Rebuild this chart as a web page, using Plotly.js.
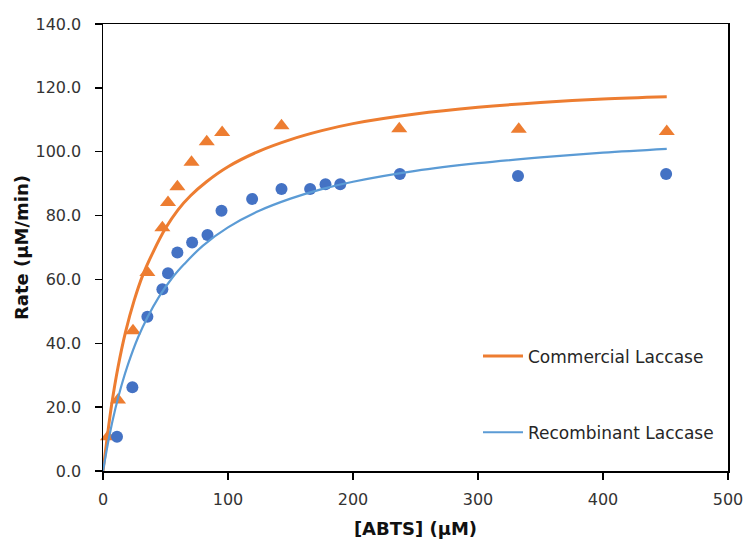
<!DOCTYPE html>
<html>
<head>
<meta charset="utf-8">
<script src="https://cdn.plot.ly/plotly-3.0.1.min.js"></script>
<style>html,body{margin:0;padding:0;background:#fff;}#chart{width:746px;height:543px;}</style>
</head>
<body>
<div id="chart"></div>
<script>
var commercialX = [4, 12, 24, 35.5, 47.5, 52, 59.5, 70.8, 83, 95.3, 142.8, 237, 332.6, 451];
var commercialY = [10.7, 22.2, 43.9, 62.2, 76.2, 84.1, 89.0, 96.7, 103.1, 106.0, 108.1, 107.2, 107.0, 106.3];
var recombinantX = [11.2, 23.5, 35.5, 47.5, 52, 59.5, 71.3, 83.6, 94.8, 119.3, 142.8, 165.7, 178, 189.8, 237.5, 332, 450.5];
var recombinantY = [10.7, 26.2, 48.3, 56.9, 61.9, 68.4, 71.6, 73.9, 81.5, 85.2, 88.3, 88.3, 89.8, 89.8, 93.0, 92.4, 93.0];

// Fitted curves
var commercialFitX = [0, 3.5, 7, 12, 18, 25, 32, 40, 50, 60, 70, 82.8, 100, 125, 150, 175, 200, 250, 300, 350, 400, 451];
var commercialFitY = [0, 11.0, 21.0, 32.5, 43.5, 53.5, 61.5, 68.5, 76.0, 81.8, 86.2, 90.6, 95.3, 100.2, 103.8, 106.6, 108.8, 111.8, 113.9, 115.4, 116.5, 117.2];
var recombinantFitX = [0, 5, 10, 15, 20, 28, 35.5, 45, 55, 65, 80, 100, 125, 150, 175, 200, 250, 300, 350, 400, 451];
var recombinantFitY = [0, 10.8, 19.7, 27.1, 33.4, 41.8, 48.1, 54.7, 60.3, 64.8, 70.6, 76.3, 81.5, 85.3, 88.3, 90.6, 94.0, 96.4, 98.2, 99.7, 100.9];

var seriesNames = ['Commercial Laccase', 'Recombinant Laccase'];
var yTicks = [0, 20, 40, 60, 80, 100, 120, 140];
var xTicks = [0, 100, 200, 300, 400, 500];

var ORANGE = '#ED7D31', BLUE_PT = '#4472C4', BLUE_LN = '#5B9BD5';
var FONT = 'DejaVu Sans';

var traces = [
  {x: commercialX, y: commercialY, type: 'scatter', mode: 'markers', showlegend: false, cliponaxis: false,
   marker: {symbol: 'triangle-up', size: 14, color: ORANGE, line: {width: 0}}, hoverinfo: 'skip'},
  {x: recombinantX, y: recombinantY, type: 'scatter', mode: 'markers', showlegend: false, cliponaxis: false,
   marker: {symbol: 'circle', size: 12, color: BLUE_PT, line: {width: 0}}, hoverinfo: 'skip'},
  {x: commercialFitX, y: commercialFitY, type: 'scatter', mode: 'lines', name: seriesNames[0],
   line: {color: ORANGE, width: 3, shape: 'spline', smoothing: 1}, legend: 'legend'},
  {x: recombinantFitX, y: recombinantFitY, type: 'scatter', mode: 'lines', name: seriesNames[1],
   line: {color: BLUE_LN, width: 2.2, shape: 'spline', smoothing: 1}, legend: 'legend2'}
];

var tickFont = {family: FONT, size: 16, color: '#333'};
var legendFont = {family: FONT, size: 17, color: '#262626'};

var layout = {
  width: 746, height: 543,
  margin: {l: 103, r: 18, t: 24, b: 72, pad: 0},
  paper_bgcolor: '#fff', plot_bgcolor: '#fff',
  showlegend: true,
  xaxis: {
    range: [0, 500], tickvals: xTicks, ticktext: xTicks.map(String),
    showgrid: false, zeroline: false, showline: true, linecolor: '#000', linewidth: 1.5, mirror: true,
    ticks: 'outside', ticklen: 7, tickwidth: 1.3, tickcolor: '#000',
    tickfont: tickFont, ticklabelstandoff: 6,
    title: {text: '<b>[ABTS] (µM)</b>', font: {family: FONT, size: 18, color: '#111'}, standoff: 14}
  },
  yaxis: {
    range: [0, 140], tickvals: yTicks, ticktext: yTicks.map(function(v){return v.toFixed(1);}),
    showgrid: false, zeroline: false, showline: true, linecolor: '#000', linewidth: 1.5, mirror: true,
    ticks: 'outside', ticklen: 7, tickwidth: 1.3, tickcolor: '#000',
    tickfont: tickFont, ticklabelstandoff: 10,
    title: {text: '<b>Rate (µM/min)</b>', font: {family: FONT, size: 18, color: '#111'}, standoff: 2}
  },
  legend: {x: 0.6, y: 0.256, xanchor: 'left', yanchor: 'middle', font: legendFont,
           bgcolor: 'rgba(0,0,0,0)', itemwidth: 40},
  legend2: {x: 0.6, y: 0.0857, xanchor: 'left', yanchor: 'middle', font: legendFont,
           bgcolor: 'rgba(0,0,0,0)', itemwidth: 40}
};

Plotly.newPlot('chart', traces, layout, {displayModeBar: false, staticPlot: true});
</script>
</body>
</html>
